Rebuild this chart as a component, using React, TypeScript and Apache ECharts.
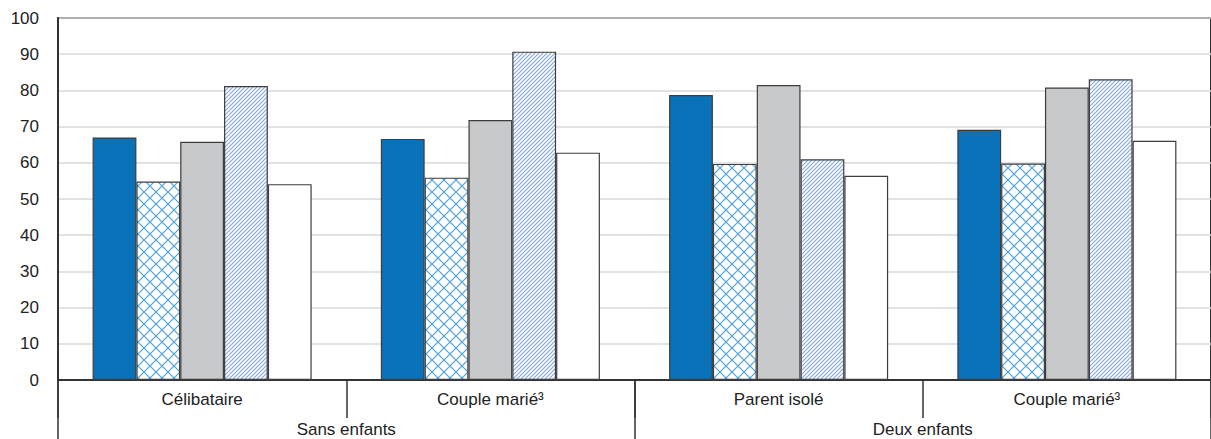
import React, { useEffect, useRef } from "react";
import * as echarts from "echarts";

// Household types (inner level) and family groups (outer level)
const subCategories = ["Célibataire", "Couple marié³", "Parent isolé", "Couple marié³"];
const groupCategories = ["Sans enfants", "Deux enfants"];

// Five indicator series, one value per household type
const seriesSolidBlue = [67, 66.6, 78.7, 69.1];
const seriesCrossHatch = [54.8, 55.9, 59.7, 59.8];
const seriesGrey = [65.8, 71.8, 81.5, 80.8];
const seriesDiagonal = [81.2, 90.7, 61, 83.1];
const seriesWhite = [54.1, 62.8, 56.4, 66.1];

const yTicks = { min: 0, max: 100, interval: 10 };

function crossPattern(): HTMLCanvasElement {
  const s = 12;
  const c = document.createElement("canvas");
  c.width = s;
  c.height = s;
  const g = c.getContext("2d")!;
  g.fillStyle = "#ffffff";
  g.fillRect(0, 0, s, s);
  g.strokeStyle = "#4ba0da";
  g.lineWidth = 1.2;
  g.beginPath();
  g.moveTo(0, 0);
  g.lineTo(s, s);
  g.moveTo(0, s);
  g.lineTo(s, 0);
  g.stroke();
  return c;
}

function diagonalPattern(): HTMLCanvasElement {
  const s = 4;
  const c = document.createElement("canvas");
  c.width = s;
  c.height = s;
  const g = c.getContext("2d")!;
  g.fillStyle = "#ffffff";
  g.fillRect(0, 0, s, s);
  g.strokeStyle = "#86a6d6";
  g.lineWidth = 1.1;
  g.beginPath();
  g.moveTo(-1, s + 1);
  g.lineTo(s + 1, -1);
  g.moveTo(-1, 1);
  g.lineTo(1, -1);
  g.moveTo(s - 1, s + 1);
  g.lineTo(s + 1, s - 1);
  g.stroke();
  return c;
}

const FONT = "'Liberation Sans', Arial, sans-serif";
const BORDER = "#3d3d3d";

export default function App() {
  const ref = useRef<HTMLDivElement>(null);

  useEffect(() => {
    if (!ref.current) return;
    const chart = echarts.init(ref.current, undefined, { renderer: "svg" });

    const barStyle = (color: any) => ({
      color,
      borderColor: BORDER,
      borderWidth: 1.2,
    });

    chart.setOption({
      animation: false,
      textStyle: { fontFamily: FONT },
      grid: {
        left: 58,
        right: -4,
        top: 18,
        bottom: 59,
        show: true,
        borderColor: "#333",
        borderWidth: 2,
      },
      xAxis: [
        {
          type: "category",
          data: subCategories,
          position: "bottom",
          axisLine: { show: true, lineStyle: { color: "#333", width: 2 } },
          axisTick: { show: true, length: 38, lineStyle: { color: "#333", width: 1.5 } },
          axisLabel: { color: "#222", fontSize: 17, margin: 11, fontFamily: FONT },
        },
        {
          type: "category",
          data: groupCategories,
          position: "bottom",
          axisLine: { show: false },
          axisTick: { show: true, length: 62, lineStyle: { color: "#333", width: 1.5 } },
          axisLabel: { color: "#222", fontSize: 17, margin: 41, fontFamily: FONT },
        },
      ],
      yAxis: {
        type: "value",
        min: yTicks.min,
        max: yTicks.max,
        interval: yTicks.interval,
        axisLine: { show: true, lineStyle: { color: "#333", width: 2 } },
        axisTick: { show: false },
        axisLabel: { color: "#222", fontSize: 17, margin: 19, fontFamily: FONT },
        splitLine: { show: true, lineStyle: { color: "#d9d9d9", width: 1.5 } },
      },
      series: [
        {
          type: "bar",
          data: seriesSolidBlue,
          barGap: "0%",
          barCategoryGap: "24%",
          itemStyle: barStyle("#0a72b8"),
        },
        {
          type: "bar",
          data: seriesCrossHatch,
          itemStyle: barStyle({ image: crossPattern(), repeat: "repeat" }),
        },
        {
          type: "bar",
          data: seriesGrey,
          itemStyle: barStyle("#c8c9cb"),
        },
        {
          type: "bar",
          data: seriesDiagonal,
          itemStyle: barStyle({ image: diagonalPattern(), repeat: "repeat" }),
        },
        {
          type: "bar",
          data: seriesWhite,
          itemStyle: barStyle("#ffffff"),
        },
      ],
    });

    return () => chart.dispose();
  }, []);

  return <div ref={ref} style={{ width: 1211, height: 439, position: "absolute", left: 0, top: 0 }} />;
}
